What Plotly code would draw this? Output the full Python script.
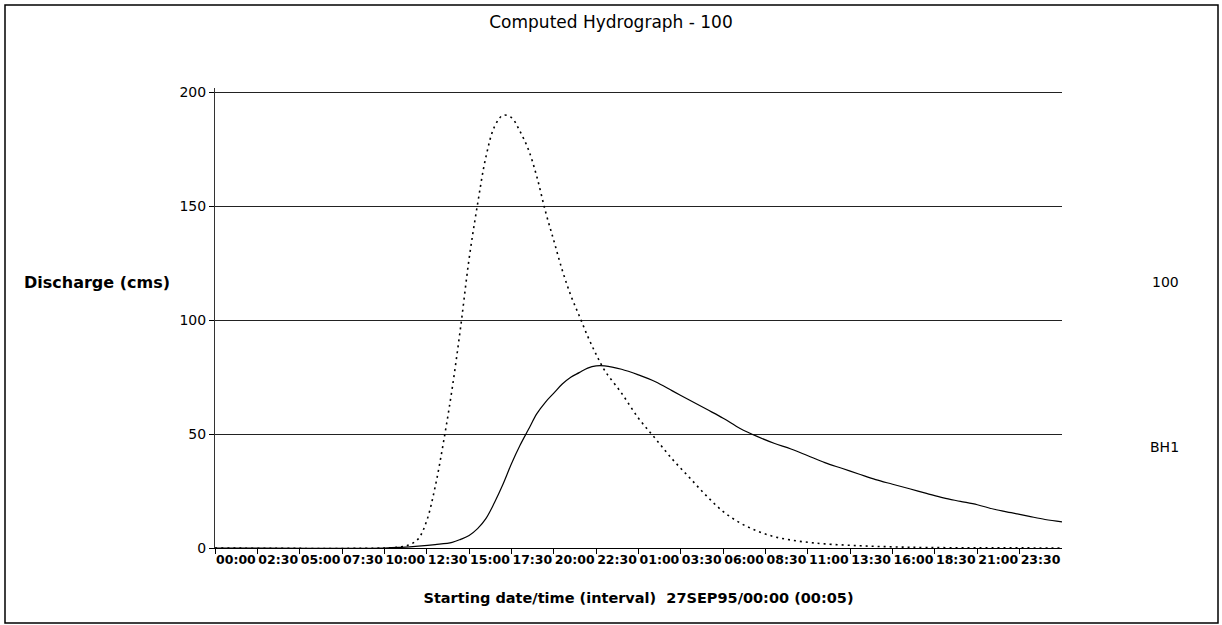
import plotly.graph_objects as go

# Time since start of run (hours from 27SEP95 00:00)
HOURS_BH1 = [0, 10, 11, 11.5, 12, 12.5, 13, 13.5, 14, 14.5, 15, 15.5, 16, 16.5, 17, 17.5,
             18, 18.5, 19, 19.5, 20, 20.5, 21, 21.5, 22, 22.5, 23, 24, 25, 26, 27, 28,
             29, 30, 31, 32, 33, 34, 35, 36, 38, 40, 42, 45, 50]
FLOW_BH1 = [0, 0, 0.5, 1.5, 4, 12, 27, 47, 70, 97, 127, 151, 172, 185, 190, 189,
            183, 175, 163, 148, 135, 122, 111, 102, 93, 85, 78, 68, 57, 48, 39, 31,
            23, 16, 11, 7.5, 5, 3.5, 2.5, 1.8, 1, 0.5, 0.2, 0.1, 0]

HOURS_100 = [0, 10, 11, 12, 13, 14, 14.5, 15, 15.5, 16, 16.5, 17, 17.5, 18, 18.5, 19, 19.5,
             20, 20.5, 21, 21.5, 22, 22.5, 23, 24, 25, 26, 27, 28, 29, 30, 31, 32, 33,
             34, 35, 36, 37, 38, 39, 40, 41, 42, 43, 44, 45, 46, 47, 48, 49, 50]
FLOW_100 = [0, 0, 0.3, 0.8, 1.5, 2.5, 3.8, 5.5, 8.5, 13, 20, 28, 37, 45, 52, 59, 64,
            68, 72, 75, 77, 79, 80, 80, 78.5, 76, 73, 69, 65, 61, 57, 52.5, 49, 46,
            43.5, 40.5, 37.5, 35, 32.5, 30, 28, 26, 24, 22, 20.5, 19, 17, 15.5, 14, 12.5, 11.5]

TICK_HOURS = [0, 2.5, 5, 7.5, 10, 12.5, 15, 17.5, 20, 22.5, 25, 27.5, 30, 32.5, 35,
              37.5, 40, 42.5, 45, 47.5]
TICK_LABELS = ["00:00", "02:30", "05:00", "07:30", "10:00", "12:30", "15:00", "17:30",
               "20:00", "22:30", "01:00", "03:30", "06:00", "08:30", "11:00", "13:30",
               "16:00", "18:30", "21:00", "23:30"]
Y_TICKS = [0, 50, 100, 150, 200]

FONT = "DejaVu Sans"
W, H = 1222, 625
ML, MR, MT, MB = 215, 160, 88, 77
PW, PH = W - ML - MR, H - MT - MB
Y_TOP = 202


def px_x(p):
    return (p - ML) / PW


def px_y(p):
    return (H - MB - p) / PH


fig = go.Figure()
fig.add_trace(go.Scatter(x=HOURS_BH1, y=FLOW_BH1, name="BH1", mode="lines",
                         line=dict(color="black", width=1.6, dash="2px,4px", shape="spline"),
                         showlegend=False))
fig.add_trace(go.Scatter(x=HOURS_100, y=FLOW_100, name="100", mode="lines",
                         line=dict(color="black", width=1.2, shape="spline"),
                         showlegend=False))

axis_common = dict(showgrid=False, zeroline=False)
fig.update_layout(
    width=W, height=H, autosize=False,
    margin=dict(l=ML, r=MR, t=MT, b=MB, pad=0),
    paper_bgcolor="white", plot_bgcolor="white",
    font=dict(family=FONT, color="black"),
    title=dict(text="Computed Hydrograph - 100", x=0.5, xanchor="center",
               y=1 - 22 / H, yanchor="middle", font=dict(family=FONT, size=17)),
    xaxis=dict(range=[0, 50], tickmode="array", tickvals=TICK_HOURS, ticktext=TICK_LABELS,
               ticks="outside", ticklen=5, tickcolor="black", showline=True,
               linecolor="black", linewidth=1, ticklabelposition="outside right",
               tickangle=0, tickfont=dict(family=FONT, size=12.5, weight="bold"),
               title=dict(text="Starting date/time (interval) \u00a027SEP95/00:00 (00:05)",
                          font=dict(family=FONT, size=14.5, weight="bold"), standoff=26),
               **axis_common),
    yaxis=dict(range=[0, Y_TOP], tickmode="array", tickvals=Y_TICKS, ticks="outside",
               ticklen=5, tickcolor="black", showline=True, linecolor="#333",
               linewidth=1, tickfont=dict(family=FONT, size=14),
               showgrid=True, gridcolor="#222", gridwidth=1, zeroline=False),
    xaxis2=dict(range=[0, 50], overlaying="x", anchor="y", tickmode="array",
                tickvals=TICK_HOURS, ticks="inside", ticklen=5, tickcolor="black",
                showticklabels=False, showline=False, **axis_common),
    yaxis2=dict(range=[0, Y_TOP], overlaying="y", anchor="x", tickmode="array",
                tickvals=Y_TICKS, ticks="inside", ticklen=5, tickcolor="black",
                showticklabels=False, showline=False, **axis_common),
)

fig.add_annotation(text="<b>Discharge (cms)</b>", xref="paper", yref="paper",
                   x=px_x(22), y=px_y(282), xanchor="left", yanchor="middle",
                   showarrow=False, font=dict(family=FONT, size=16))
fig.add_annotation(text="100", xref="paper", yref="paper", x=px_x(1181), y=px_y(282),
                   xanchor="right", yanchor="middle", showarrow=False,
                   font=dict(family=FONT, size=14))
fig.add_annotation(text="BH1", xref="paper", yref="paper", x=px_x(1181), y=px_y(447),
                   xanchor="right", yanchor="middle", showarrow=False,
                   font=dict(family=FONT, size=14))

# Outer frame around the whole chart
fig.add_shape(type="rect", xref="paper", yref="paper",
              x0=px_x(5), x1=px_x(1218), y0=px_y(623), y1=px_y(5),
              line=dict(color="black", width=1.5), layer="below")

fig.write_html("out.html")
